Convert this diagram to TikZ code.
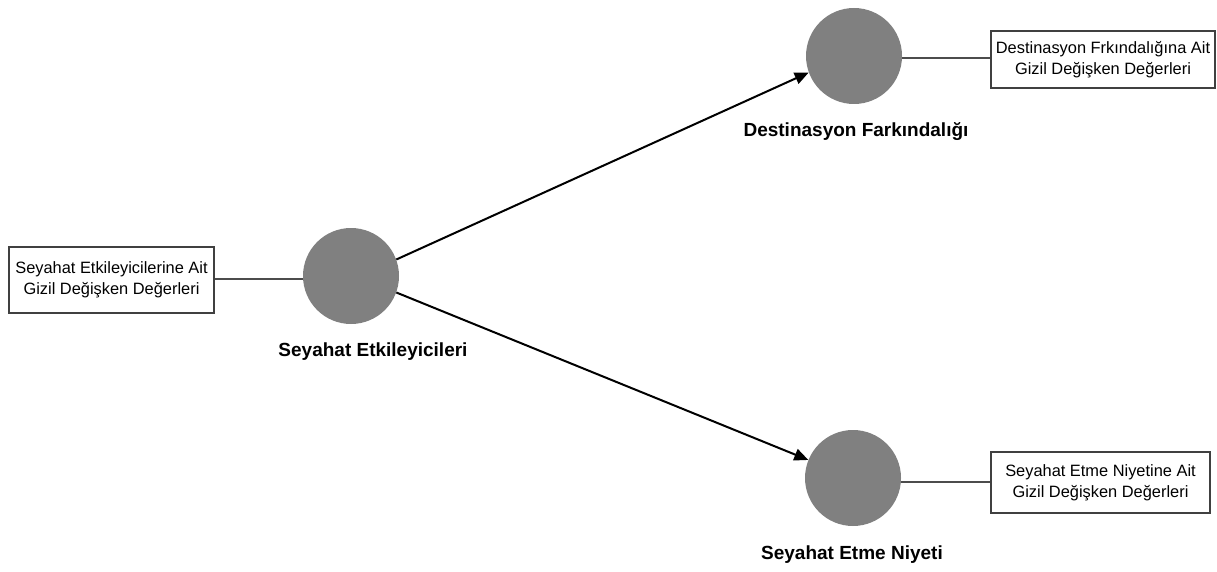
\documentclass[tikz,border=0pt]{standalone}
\usepackage{fontspec}
\setmainfont{Liberation Sans}
\usetikzlibrary{arrows.meta}
\begin{document}
\begin{tikzpicture}[x=1pt,y=-1pt,
  latent/.style={circle,fill=black!50,draw=none,minimum size=96pt,inner sep=0pt},
  indbox/.style={draw=black!75,line width=1.2pt,fill=white,align=center,font=\fontsize{16.4}{21}\selectfont,inner sep=0pt},
  biglabel/.style={font=\fontsize{19}{23}\selectfont\bfseries},
  path/.style={line width=2pt,-{Triangle[length=14pt,width=12pt]}},
  link/.style={draw=black!70,line width=1.2pt}]
\useasboundingbox (0,0) rectangle (1217,572);

\node[latent] (se) at (351,276) {};
\node[latent] (df) at (854,56) {};
\node[latent] (sn) at (853,478) {};

\node[indbox,minimum width=205pt,minimum height=66pt] (bse) at (111.5,280) {Seyahat Etkileyicilerine Ait\\Gizil Değişken Değerleri};
\node[indbox,minimum width=224pt,minimum height=57pt] (bdf) at (1103,59.5) {Destinasyon Frkındalığına Ait\\Gizil Değişken Değerleri};
\node[indbox,minimum width=219pt,minimum height=61pt] (bsn) at (1100.5,482.5) {Seyahat Etme Niyetine Ait\\Gizil Değişken Değerleri};

\node[biglabel] (lse) at (373,352) {Seyahat Etkileyicileri};
\node[biglabel] (ldf) at (856,132) {Destinasyon Farkındalığı};
\node[biglabel] (lsn) at (852,555) {Seyahat Etme Niyeti};

\draw[link] (bse.east |- 0,279) -- (se.west |- 0,279);
\draw[link] (df.east |- 0,58) -- (bdf.west |- 0,58);
\draw[link] (sn.east |- 0,482) -- (bsn.west |- 0,482);

\draw[path] (se.20) -- (df.200);
\draw[path] (se.-20) -- (sn.158);
\end{tikzpicture}
\end{document}
